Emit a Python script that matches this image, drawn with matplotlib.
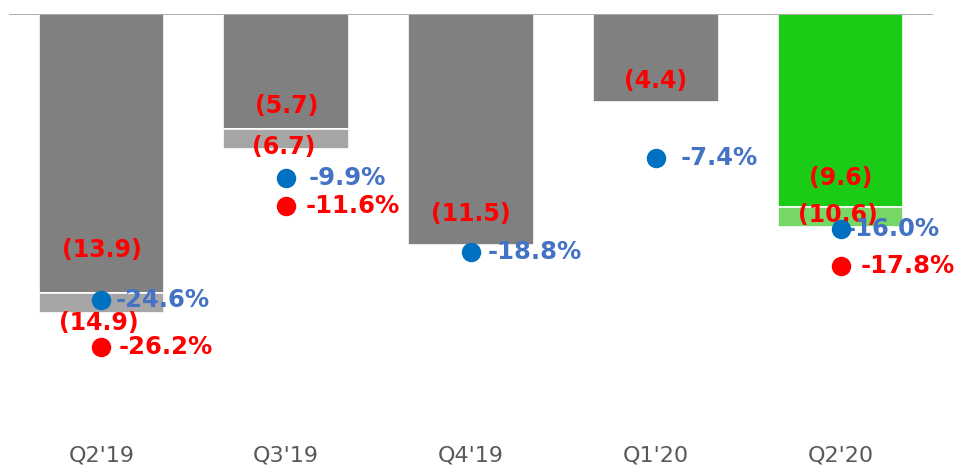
import matplotlib
matplotlib.use("Agg")
import matplotlib.pyplot as plt

# データ
quarters = ["Q2'19", "Q3'19", "Q4'19", "Q1'20", "Q2'20"]
base_vals = [-13.9, -5.7, -11.5, -4.4, -9.6]
total_vals = [-14.9, -6.7, None, None, -10.6]
blue_pct = [-24.6, -9.9, -18.8, -7.4, -16.0]
red_idx = [0, 1, 4]
red_pct = [-26.2, -11.6, -17.8]

# 色
gray = "#808080"
gray_light = "#a6a6a6"
green = "#1bcc16"
green_light = "#76d766"
red = "#ff0000"
blue_dot = "#0070c0"
blue_txt = "#4472c4"

# ラベル位置の微調整 (pixel)
base_lab_dy = [43, 23, 31, 21, 29]
total_lab_dy = {0: -10, 1: 2, 4: 12}
blue_lab_dx = [14, 22, 17, 25, 5]
red_lab_dx = [17, 19, 20]

plt.rcParams["font.family"] = ["DejaVu Sans"]

fig = plt.figure(figsize=(9.59, 4.68), dpi=100)
ax = fig.add_axes([9 / 959, 1 - 430 / 468, 924 / 959, 416 / 468])
x = list(range(len(quarters)))
w = 0.68

for i in x:
    c_dark = green if i == 4 else gray
    c_light = green_light if i == 4 else gray_light
    ax.bar(i, base_vals[i], width=w, color=c_dark, edgecolor="white", linewidth=1.2, zorder=2)
    if total_vals[i] is not None:
        ax.bar(i, total_vals[i] - base_vals[i], bottom=base_vals[i], width=w,
               color=c_light, edgecolor="white", linewidth=1.2, zorder=2)
    ax.annotate("(%.1f)" % -base_vals[i], (i, base_vals[i]), xytext=(0, base_lab_dy[i]),
                textcoords="offset pixels", ha="center", va="center",
                color=red, fontsize=17, fontweight="bold", zorder=5)
    if total_vals[i] is not None:
        ax.annotate("(%.1f)" % -total_vals[i], (i, total_vals[i]), xytext=(-3, total_lab_dy[i]),
                    textcoords="offset pixels", ha="center", va="center",
                    color=red, fontsize=17, fontweight="bold", zorder=5)

ax.set_xlim(-0.5, 4.5)
ax.set_ylim(-20.7, 0)
ax.axhline(0, color="#a0a0a0", linewidth=1.2, zorder=3)
for s in ax.spines.values():
    s.set_visible(False)
ax.set_yticks([])
ax.set_xticks(x)
ax.set_xticklabels(quarters, fontsize=16, color="#595959")
ax.tick_params(axis="x", length=0, pad=11)

# 青 (%)
ax2 = ax.twinx()
ax2.set_ylim(-40.2, 9.9)
ax2.plot(x, blue_pct, "o", color=blue_dot, markersize=13, zorder=4)
for i, v in zip(x, blue_pct):
    ax2.annotate("%.1f%%" % v, (i, v), xytext=(blue_lab_dx[i], 0), textcoords="offset pixels",
                 ha="left", va="center", color=blue_txt, fontsize=17.5, fontweight="bold")

# 赤 (%)
ax3 = ax.twinx()
ax3.set_ylim(-34.8, 8.2)
ax3.plot(red_idx, red_pct, "o", color=red, markersize=13, zorder=4)
for k, (i, v) in enumerate(zip(red_idx, red_pct)):
    ax3.annotate("%.1f%%" % v, (i, v), xytext=(red_lab_dx[k], 0), textcoords="offset pixels",
                 ha="left", va="center", color=red, fontsize=17.5, fontweight="bold")

for a in (ax2, ax3):
    a.set_yticks([])
    for s in a.spines.values():
        s.set_visible(False)

fig.savefig("out.png", dpi=100)
